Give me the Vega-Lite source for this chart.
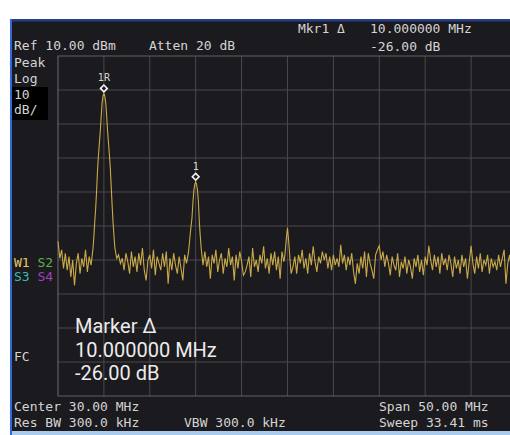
{
"$schema": "https://vega.github.io/schema/vega-lite/v6.json",
"width": 498,
"height": 410,
"autosize": {"type": "none"},
"padding": {"left": 12, "top": 21, "right": 0, "bottom": 4},
"background": "#ffffff",
"config": {"view": {"fill": "#1b1a1e", "stroke": null}},
"datasets": {
"trace": [
{"f":5.0,"db":-44.5},{"f":5.2,"db":-49.5},{"f":5.4,"db":-47},{"f":5.6,"db":-52.5},{"f":5.8,"db":-48},
{"f":6.0,"db":-53},{"f":6.2,"db":-49},{"f":6.4,"db":-55},{"f":6.6,"db":-50},{"f":6.8,"db":-57.5},
{"f":7.0,"db":-51},{"f":7.2,"db":-48},{"f":7.4,"db":-54},{"f":7.6,"db":-49.5},{"f":7.8,"db":-52},
{"f":8.0,"db":-47},{"f":8.2,"db":-53.5},{"f":8.4,"db":-49},{"f":8.6,"db":-51.5},{"f":8.8,"db":-47},
{"f":8.9,"db":-43.5},{"f":9.0,"db":-39},{"f":9.1,"db":-35},{"f":9.2,"db":-30},{"f":9.3,"db":-24},
{"f":9.4,"db":-19.5},{"f":9.5,"db":-16},{"f":9.6,"db":-12.5},{"f":9.7,"db":-8},{"f":9.8,"db":-4},
{"f":9.9,"db":-1.8},{"f":10.0,"db":-1},{"f":10.1,"db":-1.8},{"f":10.2,"db":-3.8},{"f":10.3,"db":-7.5},
{"f":10.4,"db":-12},{"f":10.5,"db":-15.5},{"f":10.6,"db":-19},{"f":10.7,"db":-23},{"f":10.8,"db":-28.5},
{"f":10.9,"db":-34},{"f":11.0,"db":-39},{"f":11.1,"db":-43},{"f":11.2,"db":-46.5},{"f":11.4,"db":-49.5},
{"f":11.6,"db":-48.5},{"f":11.8,"db":-51},{"f":12.0,"db":-49.5},{"f":12.2,"db":-53},{"f":12.4,"db":-48},
{"f":12.6,"db":-50.5},{"f":12.8,"db":-54},{"f":13.0,"db":-47.5},{"f":13.2,"db":-52},{"f":13.4,"db":-49},
{"f":13.6,"db":-53.5},{"f":13.8,"db":-48},{"f":14.0,"db":-51.5},{"f":14.2,"db":-46.5},{"f":14.4,"db":-53},
{"f":14.6,"db":-56},{"f":14.8,"db":-50},{"f":15.0,"db":-48.5},{"f":15.2,"db":-52.5},{"f":15.4,"db":-47},
{"f":15.6,"db":-54.5},{"f":15.8,"db":-49},{"f":16.0,"db":-51},{"f":16.2,"db":-53},{"f":16.4,"db":-48},
{"f":16.6,"db":-52},{"f":16.8,"db":-47.5},{"f":17.0,"db":-57},{"f":17.2,"db":-49.5},{"f":17.4,"db":-53},
{"f":17.6,"db":-48},{"f":17.8,"db":-51.5},{"f":18.0,"db":-54},{"f":18.2,"db":-49},{"f":18.4,"db":-52.5},
{"f":18.6,"db":-56},{"f":18.8,"db":-48.5},{"f":19.0,"db":-51},{"f":19.2,"db":-48},{"f":19.3,"db":-45.5},
{"f":19.4,"db":-42.5},{"f":19.5,"db":-40},{"f":19.6,"db":-37.5},{"f":19.7,"db":-33},{"f":19.8,"db":-29.5},
{"f":19.9,"db":-27.8},{"f":20.0,"db":-27},{"f":20.1,"db":-27.8},{"f":20.2,"db":-29.5},{"f":20.3,"db":-33},
{"f":20.4,"db":-39},{"f":20.5,"db":-43},{"f":20.6,"db":-46.5},{"f":20.7,"db":-49},{"f":20.8,"db":-51.5},
{"f":21.0,"db":-47.5},{"f":21.2,"db":-52},{"f":21.4,"db":-49},{"f":21.6,"db":-55.5},{"f":21.8,"db":-48.5},
{"f":22.0,"db":-51},{"f":22.2,"db":-47},{"f":22.4,"db":-53.5},{"f":22.6,"db":-50},{"f":22.8,"db":-48},
{"f":23.0,"db":-54},{"f":23.2,"db":-49.5},{"f":23.4,"db":-52},{"f":23.6,"db":-46.5},{"f":23.8,"db":-51.5},
{"f":24.0,"db":-49},{"f":24.2,"db":-56},{"f":24.4,"db":-48.5},{"f":24.6,"db":-52.5},{"f":24.8,"db":-47.5},
{"f":25.0,"db":-50.5},{"f":25.2,"db":-54.5},{"f":25.4,"db":-53.5},{"f":25.6,"db":-51.5},{"f":25.8,"db":-49},
{"f":26.0,"db":-55},{"f":26.2,"db":-46.5},{"f":26.4,"db":-52},{"f":26.6,"db":-50},{"f":26.8,"db":-53.5},
{"f":27.0,"db":-48.5},{"f":27.2,"db":-51},{"f":27.4,"db":-46},{"f":27.6,"db":-52.5},{"f":27.8,"db":-49.5},
{"f":28.0,"db":-54},{"f":28.2,"db":-48},{"f":28.4,"db":-51.5},{"f":28.6,"db":-47.5},{"f":28.8,"db":-53},
{"f":29.0,"db":-49},{"f":29.2,"db":-55.5},{"f":29.4,"db":-47.5},{"f":29.6,"db":-50.5},{"f":29.7,"db":-49},
{"f":29.8,"db":-46},{"f":29.9,"db":-43},{"f":30.0,"db":-40.5},{"f":30.1,"db":-43.5},{"f":30.2,"db":-47},
{"f":30.3,"db":-51},{"f":30.4,"db":-54},{"f":30.6,"db":-52},{"f":30.8,"db":-49},{"f":31.0,"db":-54},
{"f":31.2,"db":-48.5},{"f":31.4,"db":-51},{"f":31.6,"db":-47},{"f":31.8,"db":-52.5},{"f":32.0,"db":-49.5},
{"f":32.2,"db":-54},{"f":32.4,"db":-48},{"f":32.6,"db":-51.5},{"f":32.8,"db":-46},{"f":33.0,"db":-50.5},
{"f":33.2,"db":-53.5},{"f":33.4,"db":-49},{"f":33.6,"db":-51},{"f":33.8,"db":-47.5},{"f":34.0,"db":-50},
{"f":34.2,"db":-48},{"f":34.4,"db":-52.5},{"f":34.6,"db":-49},{"f":34.8,"db":-53},{"f":35.0,"db":-48.5},
{"f":35.2,"db":-51.5},{"f":35.4,"db":-49.5},{"f":35.6,"db":-52},{"f":35.8,"db":-45.5},{"f":36.0,"db":-51},
{"f":36.2,"db":-48.5},{"f":36.4,"db":-53},{"f":36.6,"db":-49},{"f":36.8,"db":-51.5},{"f":37.0,"db":-48},
{"f":37.2,"db":-53.5},{"f":37.4,"db":-57},{"f":37.6,"db":-51},{"f":37.8,"db":-54},{"f":38.0,"db":-49},
{"f":38.2,"db":-52.5},{"f":38.4,"db":-47.5},{"f":38.6,"db":-55},{"f":38.8,"db":-48},{"f":39.0,"db":-51},
{"f":39.2,"db":-53},{"f":39.4,"db":-55.5},{"f":39.6,"db":-48.5},{"f":39.8,"db":-47},{"f":40.0,"db":-45.8},
{"f":40.2,"db":-50},{"f":40.4,"db":-47.5},{"f":40.6,"db":-52},{"f":40.8,"db":-48.5},{"f":41.0,"db":-51},
{"f":41.2,"db":-54.5},{"f":41.4,"db":-49},{"f":41.6,"db":-51.5},{"f":41.8,"db":-53},{"f":42.0,"db":-48},
{"f":42.2,"db":-55},{"f":42.4,"db":-50.5},{"f":42.6,"db":-52.5},{"f":42.8,"db":-49},{"f":43.0,"db":-54},
{"f":43.2,"db":-50},{"f":43.4,"db":-52},{"f":43.6,"db":-55.5},{"f":43.8,"db":-49.5},{"f":44.0,"db":-52},
{"f":44.2,"db":-48.5},{"f":44.4,"db":-53.5},{"f":44.6,"db":-50},{"f":44.8,"db":-54.5},{"f":45.0,"db":-49},
{"f":45.2,"db":-51.5},{"f":45.4,"db":-45.8},{"f":45.6,"db":-50},{"f":45.8,"db":-53},{"f":46.0,"db":-48.5},
{"f":46.2,"db":-52},{"f":46.4,"db":-49},{"f":46.6,"db":-54},{"f":46.8,"db":-48},{"f":47.0,"db":-51.5},
{"f":47.2,"db":-49.5},{"f":47.4,"db":-53},{"f":47.6,"db":-48.5},{"f":47.8,"db":-51},{"f":48.0,"db":-55},
{"f":48.2,"db":-49},{"f":48.4,"db":-52.5},{"f":48.6,"db":-50},{"f":48.8,"db":-54},{"f":49.0,"db":-48.5},
{"f":49.2,"db":-52},{"f":49.4,"db":-49.5},{"f":49.6,"db":-55.5},{"f":49.8,"db":-50.5},{"f":50.0,"db":-45.8},
{"f":50.2,"db":-51},{"f":50.4,"db":-54},{"f":50.6,"db":-49},{"f":50.8,"db":-52.5},{"f":51.0,"db":-48},
{"f":51.2,"db":-53.5},{"f":51.4,"db":-50},{"f":51.6,"db":-51.5},{"f":51.8,"db":-48.5},{"f":52.0,"db":-54},
{"f":52.2,"db":-49.5},{"f":52.4,"db":-52},{"f":52.6,"db":-50.5},{"f":52.8,"db":-53},{"f":53.0,"db":-48.5},
{"f":53.2,"db":-52},{"f":53.4,"db":-49.5},{"f":53.6,"db":-47},{"f":53.8,"db":-57},{"f":54.0,"db":-51},
{"f":54.2,"db":-48.5},{"f":54.4,"db":-53}
],
"vgrid": [{"f":10},{"f":15},{"f":20},{"f":25},{"f":30},{"f":35},{"f":40},{"f":45},{"f":50}],
"hgrid": [{"db":0},{"db":-10},{"db":-20},{"db":-30},{"db":-40},{"db":-50},{"db":-60},{"db":-70},{"db":-80}],
"markers": [{"f":10,"db":-1,"label":"1R"},{"f":20,"db":-27,"label":"1"}]
},
"layer": [
{"data":{"values":[{}]},"mark":{"type":"rect","color":"#233f8c","clip":false},
 "encoding":{"x":{"datum":-0.23,"scale":{"domain":[-0.01,54.24],"nice":false,"zero":false},"axis":null},"x2":{"datum":54.24},
 "y":{"datum":20.15,"scale":{"domain":[-100.29,20.29],"nice":false,"zero":false},"axis":null},"y2":{"datum":20.88}}},
{"data":{"values":[{}]},"mark":{"type":"rect","color":"#3566d6","clip":false},
 "encoding":{"x":{"datum":-0.23,"scale":{"domain":[-0.01,54.24],"nice":false,"zero":false},"axis":null},"x2":{"datum":-0.01},
 "y":{"datum":20.88,"scale":{"domain":[-100.29,20.29],"nice":false,"zero":false},"axis":null},"y2":{"datum":-101.6}}},
{"data":{"values":[{}]},"mark":{"type":"rect","color":"#a9cbee","clip":false},
 "encoding":{"x":{"datum":-0.01,"scale":{"domain":[-0.01,54.24],"nice":false,"zero":false},"axis":null},"x2":{"datum":54.24},
 "y":{"datum":-100.29,"scale":{"domain":[-100.29,20.29],"nice":false,"zero":false},"axis":null},"y2":{"datum":-101.6}}},
{"data":{"values":[{}]},"mark":{"type":"rect","color":"#000000"},
 "encoding":{"x":{"datum":-0.01,"scale":{"domain":[-0.01,54.24],"nice":false,"zero":false},"axis":null},"x2":{"datum":3.91},
 "y":{"datum":0.88,"scale":{"domain":[-100.29,20.29],"nice":false,"zero":false},"axis":null},"y2":{"datum":-8.82}}},
{"data":{"name":"vgrid"},"mark":{"type":"rule","color":"#4a494e","strokeWidth":1},
 "encoding":{"x":{"field":"f","type":"quantitative","scale":{"domain":[-0.01,54.24],"nice":false,"zero":false},"axis":null},
 "y":{"datum":-90,"scale":{"domain":[-100.29,20.29],"nice":false,"zero":false},"axis":null},"y2":{"datum":10}}},
{"data":{"name":"hgrid"},"mark":{"type":"rule","color":"#4a494e","strokeWidth":1,"clip":true},
 "encoding":{"y":{"field":"db","type":"quantitative","scale":{"domain":[-100.29,20.29],"nice":false,"zero":false},"axis":null},
 "x":{"datum":5,"scale":{"domain":[-0.01,54.24],"nice":false,"zero":false},"axis":null},"x2":{"datum":55}}},
{"data":{"values":[{}]},"mark":{"type":"rect","fillOpacity":0,"stroke":"#605f64","strokeWidth":1.2,"clip":true},
 "encoding":{"x":{"datum":5,"scale":{"domain":[-0.01,54.24],"nice":false,"zero":false},"axis":null},"x2":{"datum":55},
 "y":{"datum":-90,"scale":{"domain":[-100.29,20.29],"nice":false,"zero":false},"axis":null},"y2":{"datum":10}}},
{"data":{"name":"trace"},"mark":{"type":"line","color":"#c9aa48","strokeWidth":1.1,"clip":true},
 "encoding":{"x":{"field":"f","type":"quantitative","scale":{"domain":[-0.01,54.24],"nice":false,"zero":false},"axis":null},
 "y":{"field":"db","type":"quantitative","scale":{"domain":[-100.29,20.29],"nice":false,"zero":false},"axis":null}}},
{"data":{"name":"markers"},"mark":{"type":"point","shape":"diamond","filled":true,"fill":"#1b1a1e","stroke":"#f4f4f4","strokeWidth":1.6,"size":45,"opacity":1,"yOffset":-5},
 "encoding":{"x":{"field":"f","type":"quantitative","scale":{"domain":[-0.01,54.24],"nice":false,"zero":false},"axis":null},
 "y":{"field":"db","type":"quantitative","scale":{"domain":[-100.29,20.29],"nice":false,"zero":false},"axis":null}}},
{"data":{"name":"markers"},"mark":{"type":"text","font":"DejaVu Sans Mono","fontSize":10,"color":"#d8d8d8","align":"center","baseline":"alphabetic","dy":-12},
 "encoding":{"x":{"field":"f","type":"quantitative","scale":{"domain":[-0.01,54.24],"nice":false,"zero":false},"axis":null},
 "y":{"field":"db","type":"quantitative","scale":{"domain":[-100.29,20.29],"nice":false,"zero":false},"axis":null},
 "text":{"field":"label"}}},
{"data":{"values":[{}]},"mark":{"type":"text","text":"Ref 10.00 dBm","font":"DejaVu Sans Mono","fontSize":13,"color":"#d4d4d4","align":"left","baseline":"alphabetic"},
 "encoding":{"x":{"datum":0.21,"scale":{"domain":[-0.01,54.24],"nice":false,"zero":false},"axis":null},"y":{"datum":11.62,"scale":{"domain":[-100.29,20.29],"nice":false,"zero":false},"axis":null}}},
{"data":{"values":[{}]},"mark":{"type":"text","text":"Peak\nLog\n10\ndB/","lineBreak":"\n","lineHeight":15.6,"font":"DejaVu Sans Mono","fontSize":13,"color":"#d4d4d4","align":"left","baseline":"alphabetic"},
 "encoding":{"x":{"datum":0.21,"scale":{"domain":[-0.01,54.24],"nice":false,"zero":false},"axis":null},"y":{"datum":6.62,"scale":{"domain":[-100.29,20.29],"nice":false,"zero":false},"axis":null}}},
{"data":{"values":[{}]},"mark":{"type":"text","text":"Atten 20 dB","font":"DejaVu Sans Mono","fontSize":13,"color":"#d4d4d4","align":"left","baseline":"alphabetic"},
 "encoding":{"x":{"datum":14.91,"scale":{"domain":[-0.01,54.24],"nice":false,"zero":false},"axis":null},"y":{"datum":11.62,"scale":{"domain":[-100.29,20.29],"nice":false,"zero":false},"axis":null}}},
{"data":{"values":[{}]},"mark":{"type":"text","text":"Mkr1 Δ","font":"DejaVu Sans Mono","fontSize":13,"color":"#d4d4d4","align":"left","baseline":"alphabetic"},
 "encoding":{"x":{"datum":31.14,"scale":{"domain":[-0.01,54.24],"nice":false,"zero":false},"axis":null},"y":{"datum":16.76,"scale":{"domain":[-100.29,20.29],"nice":false,"zero":false},"axis":null}}},
{"data":{"values":[{}]},"mark":{"type":"text","text":"10.000000 MHz\n-26.00 dB","lineBreak":"\n","lineHeight":17.5,"font":"DejaVu Sans Mono","fontSize":13,"color":"#d4d4d4","align":"left","baseline":"alphabetic"},
 "encoding":{"x":{"datum":38.99,"scale":{"domain":[-0.01,54.24],"nice":false,"zero":false},"axis":null},"y":{"datum":16.76,"scale":{"domain":[-100.29,20.29],"nice":false,"zero":false},"axis":null}}},
{"data":{"values":[{}]},"mark":{"type":"text","text":"W1","font":"DejaVu Sans Mono","fontSize":13,"color":"#e2cb66","align":"left","baseline":"alphabetic"},
 "encoding":{"x":{"datum":0.21,"scale":{"domain":[-0.01,54.24],"nice":false,"zero":false},"axis":null},"y":{"datum":-51.97,"scale":{"domain":[-100.29,20.29],"nice":false,"zero":false},"axis":null}}},
{"data":{"values":[{}]},"mark":{"type":"text","text":"S2","font":"DejaVu Sans Mono","fontSize":13,"color":"#5bb04c","align":"left","baseline":"alphabetic"},
 "encoding":{"x":{"datum":2.77,"scale":{"domain":[-0.01,54.24],"nice":false,"zero":false},"axis":null},"y":{"datum":-51.97,"scale":{"domain":[-100.29,20.29],"nice":false,"zero":false},"axis":null}}},
{"data":{"values":[{}]},"mark":{"type":"text","text":"S3","font":"DejaVu Sans Mono","fontSize":13,"color":"#3fb8b6","align":"left","baseline":"alphabetic"},
 "encoding":{"x":{"datum":0.21,"scale":{"domain":[-0.01,54.24],"nice":false,"zero":false},"axis":null},"y":{"datum":-56.18,"scale":{"domain":[-100.29,20.29],"nice":false,"zero":false},"axis":null}}},
{"data":{"values":[{}]},"mark":{"type":"text","text":"S4","font":"DejaVu Sans Mono","fontSize":13,"color":"#a23fc2","align":"left","baseline":"alphabetic"},
 "encoding":{"x":{"datum":2.77,"scale":{"domain":[-0.01,54.24],"nice":false,"zero":false},"axis":null},"y":{"datum":-56.18,"scale":{"domain":[-100.29,20.29],"nice":false,"zero":false},"axis":null}}},
{"data":{"values":[{}]},"mark":{"type":"text","text":"FC","font":"DejaVu Sans Mono","fontSize":13,"color":"#d4d4d4","align":"left","baseline":"alphabetic"},
 "encoding":{"x":{"datum":0.21,"scale":{"domain":[-0.01,54.24],"nice":false,"zero":false},"axis":null},"y":{"datum":-79.71,"scale":{"domain":[-100.29,20.29],"nice":false,"zero":false},"axis":null}}},
{"data":{"values":[{}]},"mark":{"type":"text","text":"Center 30.00 MHz\nRes BW 300.0 kHz","lineBreak":"\n","lineHeight":16,"font":"DejaVu Sans Mono","fontSize":13,"color":"#d4d4d4","align":"left","baseline":"alphabetic"},
 "encoding":{"x":{"datum":0.21,"scale":{"domain":[-0.01,54.24],"nice":false,"zero":false},"axis":null},"y":{"datum":-94.41,"scale":{"domain":[-100.29,20.29],"nice":false,"zero":false},"axis":null}}},
{"data":{"values":[{}]},"mark":{"type":"text","text":"VBW 300.0 kHz","font":"DejaVu Sans Mono","fontSize":13,"color":"#d4d4d4","align":"left","baseline":"alphabetic"},
 "encoding":{"x":{"datum":18.73,"scale":{"domain":[-0.01,54.24],"nice":false,"zero":false},"axis":null},"y":{"datum":-99.12,"scale":{"domain":[-100.29,20.29],"nice":false,"zero":false},"axis":null}}},
{"data":{"values":[{}]},"mark":{"type":"text","text":"Span 50.00 MHz\nSweep 33.41 ms","lineBreak":"\n","lineHeight":16,"font":"DejaVu Sans Mono","fontSize":13,"color":"#d4d4d4","align":"left","baseline":"alphabetic"},
 "encoding":{"x":{"datum":39.97,"scale":{"domain":[-0.01,54.24],"nice":false,"zero":false},"axis":null},"y":{"datum":-94.41,"scale":{"domain":[-100.29,20.29],"nice":false,"zero":false},"axis":null}}},
{"data":{"values":[{}]},"mark":{"type":"text","text":"Marker Δ\n10.000000 MHz\n-26.00 dB","lineBreak":"\n","lineHeight":23.4,"font":"Roboto","fontSize":20,"color":"#ececec","align":"left","baseline":"alphabetic"},
 "encoding":{"x":{"datum":6.85,"scale":{"domain":[-0.01,54.24],"nice":false,"zero":false},"axis":null},"y":{"datum":-71.56,"scale":{"domain":[-100.29,20.29],"nice":false,"zero":false},"axis":null}}}
]
}
